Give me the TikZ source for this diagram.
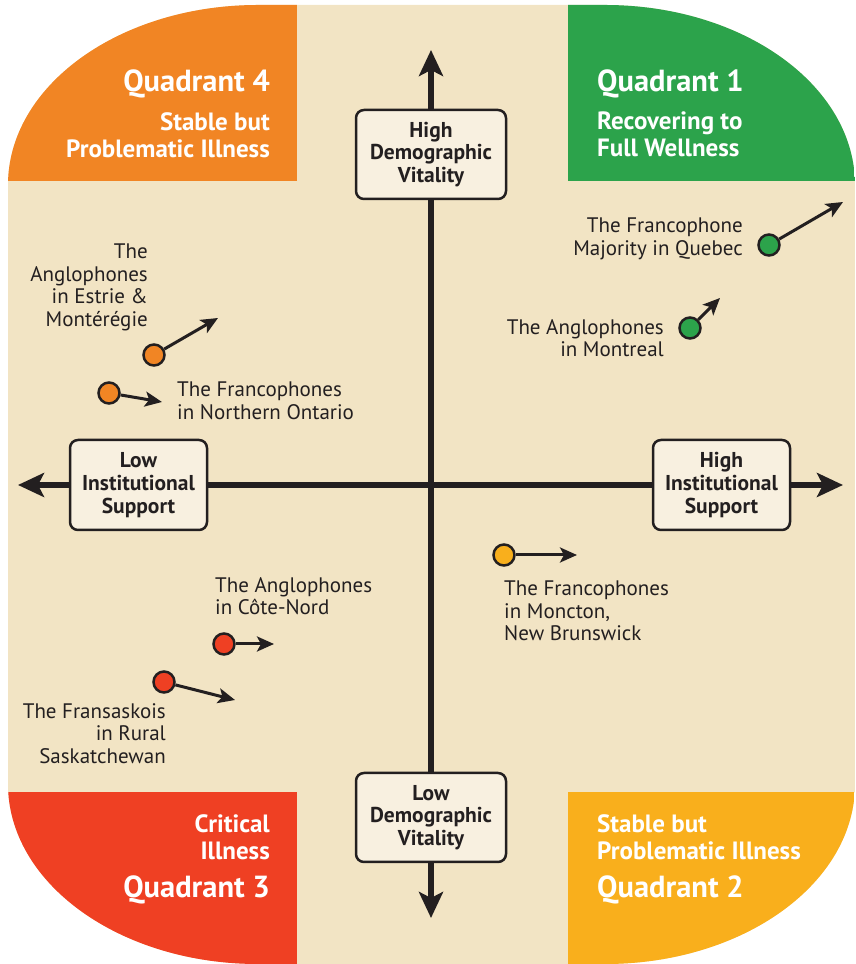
\documentclass[tikz,border=0pt]{standalone}
\usepackage{fontspec}
\setmainfont{PT Sans}
\usepackage{tikz}
\usetikzlibrary{arrows.meta}
\definecolor{ink}{HTML}{231F20}
\definecolor{bgbeige}{HTML}{F2E4C4}
\definecolor{boxfill}{HTML}{F8F0E0}
\definecolor{qorange}{HTML}{F18524}
\definecolor{qgreen}{HTML}{2CA34B}
\definecolor{qred}{HTML}{EF4023}
\definecolor{qyellow}{HTML}{F9AF1C}
\tikzstyle{axisbox}=[rectangle,draw=ink,fill=boxfill,line width=2.5pt,
  rounded corners=8pt,minimum width=150pt,minimum height=89pt,inner sep=2pt,
  font=\fontsize{21.5}{22.7}\selectfont\bfseries,align=center,text=ink]
\tikzstyle{axisarr}=[{Stealth[length=26pt,width=24pt,inset=6pt]}-{Stealth[length=26pt,width=24pt,inset=6pt]},
  line width=6pt,color=ink]
\tikzstyle{dot}=[circle,draw=ink,line width=2.5pt,minimum size=21pt,inner sep=0pt]
\tikzstyle{move}=[-{Stealth[length=17pt,width=15pt,inset=4pt]},line width=3pt,color=ink]
\tikzstyle{lbl}=[font=\fontsize{21}{22.5}\selectfont,text=ink,inner sep=0pt]
\tikzstyle{qtitle}=[font=\fontsize{30.5}{32}\selectfont\bfseries,text=white,inner sep=0pt]
\tikzstyle{qtext}=[font=\fontsize{25}{27}\selectfont\bfseries,text=white,inner sep=0pt]

\begin{document}
\begin{tikzpicture}[x=1pt,y=1pt]
  \useasboundingbox (0,0) rectangle (855,964);
  % background with the four coloured corners
  \begin{scope}
    \clip (8,779) arc[start angle=180,end angle=90,x radius=250,y radius=180]
      -- (605,959) arc[start angle=90,end angle=0,x radius=250,y radius=180]
      -- (855,180) arc[start angle=0,end angle=-90,x radius=250,y radius=180]
      -- (258,0) arc[start angle=-90,end angle=-180,x radius=250,y radius=180]
      -- cycle;
    \fill[bgbeige] (0,0) rectangle (855,964);
    \fill[qorange] (8,783) rectangle (297,964);
    \fill[qgreen] (568,783) rectangle (855,964);
    \fill[qred] (8,0) rectangle (297,172);
    \fill[qyellow] (568,0) rectangle (855,172);
  \end{scope}

  \node[qtitle,anchor=base east] (q4title) at (270,872) {Quadrant 4};
  \node[qtext,anchor=north east,align=right] (q4text) at (270,852) {Stable but\\Problematic Illness};
  \node[qtitle,anchor=base west] (q1title) at (597,872) {Quadrant 1};
  \node[qtext,anchor=north west,align=left] (q1text) at (597,852) {Recovering to\\Full Wellness};
  \node[qtext,anchor=north east,align=right] (q3text) at (270,150) {Critical\\Illness};
  \node[qtitle,anchor=base east] (q3title) at (270,66) {Quadrant 3};
  \node[qtext,anchor=north west,align=left] (q2text) at (597,150) {Stable but\\Problematic Illness};
  \node[qtitle,anchor=base west] (q2title) at (597,66) {Quadrant 2};

  % axes
  \coordinate (ytop) at (431,914);
  \coordinate (ybot) at (431,46);
  \coordinate (xleft) at (18,479);
  \coordinate (xright) at (843,479);
  \draw[axisarr] (ybot) -- (ytop);
  \draw[axisarr] (xleft) -- (xright);
  \node[axisbox] (hdv) at (431,809.5) {High\\Demographic\\Vitality};
  \node[axisbox] (ldv) at (431,146.5) {Low\\Demographic\\Vitality};
  \node[axisbox,minimum width=137pt,minimum height=90pt] (lis) at (138.5,479) {Low\\Institutional\\Support};
  \node[axisbox,minimum width=137pt,minimum height=90pt] (his) at (721.5,479) {High\\Institutional\\Support};

  % communities
  \node[dot,fill=qgreen] (quebec) at (769,719) {};
  \coordinate (quebecto) at (843,762);
  \draw[move] (quebec) -- (quebecto);
  \node[lbl,anchor=north east,align=right] (quebeclbl) at (743,746) {The Francophone\\Majority in Quebec};

  \node[dot,fill=qgreen] (montreal) at (690,636) {};
  \coordinate (montrealto) at (720,666);
  \draw[move] (montreal) -- (montrealto);
  \node[lbl,anchor=north east,align=right] (montreallbl) at (664,645) {The Anglophones\\in Montreal};

  \node[dot,fill=qorange] (estrie) at (154,609) {};
  \coordinate (estrieto) at (218,646);
  \draw[move] (estrie) -- (estrieto);
  \node[lbl,anchor=north east,align=right] (estrielbl) at (148,720) {The\\Anglophones\\in Estrie \&\\Montérégie};

  \node[dot,fill=qorange] (ontario) at (109,571) {};
  \coordinate (ontarioto) at (162,562);
  \draw[move] (ontario) -- (ontarioto);
  \node[lbl,anchor=north west,align=left] (ontariolbl) at (177,582) {The Francophones\\in Northern Ontario};

  \node[dot,fill=qyellow] (moncton) at (504,409) {};
  \coordinate (monctonto) at (577,409);
  \draw[move] (moncton) -- (monctonto);
  \node[lbl,anchor=north west,align=left] (monctonlbl) at (504,383) {The Francophones\\in Moncton,\\New Brunswick};

  \node[dot,fill=qred] (cotenord) at (224,320) {};
  \coordinate (cotenordto) at (274,320);
  \draw[move] (cotenord) -- (cotenordto);
  \node[lbl,anchor=north west,align=left] (cotenordlbl) at (215,387) {The Anglophones\\in Côte-Nord};

  \node[dot,fill=qred] (fransaskois) at (164,282) {};
  \coordinate (fransaskoisto) at (235,264);
  \draw[move] (fransaskois) -- (fransaskoisto);
  \node[lbl,anchor=north east,align=right] (fransaskoislbl) at (166,261) {The Fransaskois\\in Rural\\Saskatchewan};
\end{tikzpicture}
\end{document}
